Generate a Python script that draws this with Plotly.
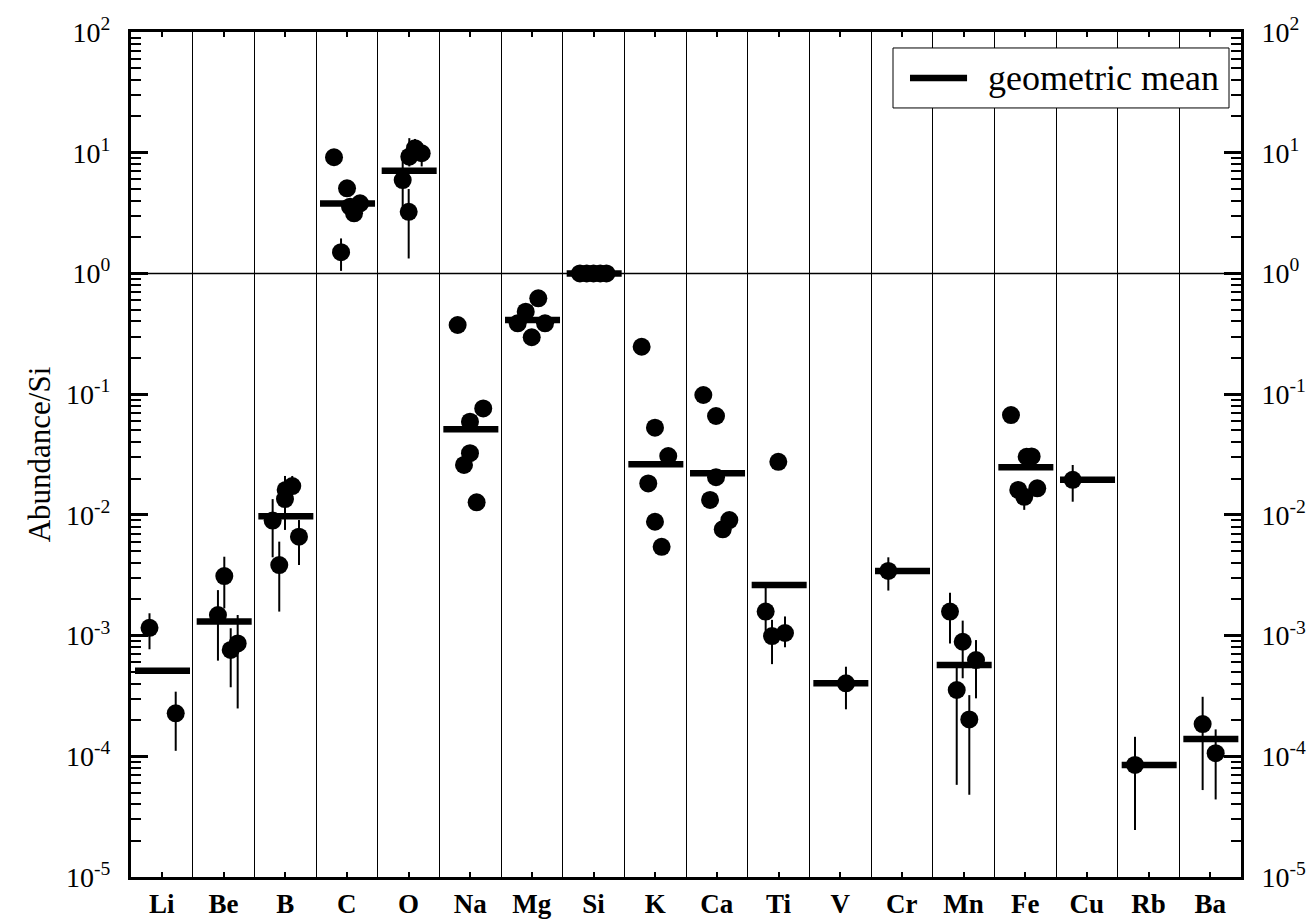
import plotly.graph_objects as go

elements = ["Li", "Be", "B", "C", "O", "Na", "Mg", "Si", "K",
            "Ca", "Ti", "V", "Cr", "Mn", "Fe", "Cu", "Rb", "Ba"]

# individual determinations: element, abundance relative to Si,
# upper / lower limits of the uncertainty (None where no bar is drawn)
pt_element = (["Li"] * 2 + ["Be"] * 4 + ["B"] * 6 + ["C"] * 6 + ["O"] * 5 +
              ["Na"] * 6 + ["Mg"] * 5 + ["Si"] * 5 + ["K"] * 6 + ["Ca"] * 6 +
              ["Ti"] * 4 + ["V"] + ["Cr"] + ["Mn"] * 5 + ["Fe"] * 6 +
              ["Cu"] + ["Rb"] + ["Ba"] * 2)

pt_value = [1.16e-3, 2.27e-4,
            3.11e-3, 1.48e-3, 7.6e-4, 8.6e-4,
            1.73e-2, 1.61e-2, 1.35e-2, 8.96e-3, 6.59e-3, 3.84e-3,
            9.17, 5.07, 3.57, 3.81, 3.15, 1.50,
            9.27, 9.9, 10.9, 5.94, 3.24,
            0.374, 0.0762, 0.0592, 0.0324, 0.0259, 0.0127,
            0.622, 0.482, 0.386, 0.386, 0.296,
            1.0, 1.0, 1.0, 1.0, 1.0,
            0.247, 0.0527, 0.0307, 0.0182, 0.00877, 0.00544,
            0.0984, 0.0659, 0.0205, 0.0133, 0.00906, 0.00759,
            0.0275, 1.58e-3, 9.9e-4, 1.05e-3,
            4.02e-4,
            3.43e-3,
            1.58e-3, 8.89e-4, 6.27e-4, 3.54e-4, 2.02e-4,
            0.0671, 0.0303, 0.0305, 0.0161, 0.0166, 0.0141,
            0.0195,
            8.48e-5,
            1.85e-4, 1.06e-4]

pt_upper = [1.53e-3, 3.43e-4,
            4.5e-3, 2.38e-3, 1.15e-3, 1.48e-3,
            2.1e-2, None, 2.1e-2, 1.35e-2, 9.06e-3, 6.0e-3,
            None, None, None, None, None, 1.95,
            13.2, 12.0, 13.0, 9.0, 5.0,
            None, None, None, None, None, None,
            None, None, None, None, None,
            None, None, None, None, None,
            None, None, None, None, None, None,
            None, None, None, None, None, None,
            None, 2.48e-3, 1.35e-3, 1.44e-3,
            5.52e-4,
            4.45e-3,
            2.26e-3, 1.33e-3, 9.18e-4, 5.4e-4, 3.21e-4,
            None, None, None, None, None, None,
            0.0259,
            1.45e-4,
            3.11e-4, 1.67e-4]

pt_lower = [7.7e-4, 1.11e-4,
            1.68e-3, 6.2e-4, 3.73e-4, 2.49e-4,
            None, None, 7.5e-3, 4.45e-3, 3.84e-3, 1.58e-3,
            None, None, None, None, None, 1.05,
            7.7, 7.7, 9.0, 3.57, 1.33,
            None, None, None, None, None, None,
            None, None, None, None, None,
            None, None, None, None, None,
            None, None, None, None, None, None,
            None, None, None, None, None, None,
            None, 9.5e-4, 5.8e-4, 8.0e-4,
            2.45e-4,
            2.36e-3,
            8.6e-4, 4.43e-4, 3.02e-4, 5.8e-5, 4.8e-5,
            None, None, None, None, None, 0.011,
            0.01285,
            2.45e-5,
            5.25e-5, 4.39e-5]

# sideways spread of the points inside each element column (column widths)
pt_shift = [-0.20, 0.225,
            0.013, -0.09, 0.117, 0.23,
            0.115, 0.008, -0.003, -0.203, 0.224, -0.096,
            -0.208, 0.003, 0.052, 0.214, 0.117, -0.094,
            0.013, 0.214, 0.105, -0.094, 0.003,
            -0.203, 0.212, -0.003, -0.003, -0.100, 0.105,
            0.105, -0.099, -0.229, 0.214, -0.002,
            -0.22, -0.11, 0.0, 0.11, 0.21,
            -0.219, -0.003, 0.212, -0.112, -0.003, 0.105,
            -0.219, -0.013, -0.013, -0.110, 0.203, 0.096,
            -0.003, -0.208, -0.105, 0.105,
            0.094,
            -0.219,
            -0.219, -0.013, 0.203, -0.110, 0.094,
            -0.230, 0.024, 0.105, -0.112, 0.196, -0.015,
            -0.229,
            -0.219,
            -0.122, 0.089]

# geometric mean of each element
geo_mean = [5.11e-4, 1.31e-3, 9.73e-3, 3.79, 7.10, 0.0511, 0.411, 1.0,
            0.0262, 0.0221, 2.62e-3, 4.02e-4, 3.43e-3, 5.70e-4, 0.0248,
            0.0195, 8.48e-5, 1.39e-4]

decade_exps = list(range(-5, 3))
decade_text = ["10<sup>%d</sup>" % e for e in decade_exps]

FONT = "Liberation Serif"

# column geometry
centers = [i + 0.5 for i in range(len(elements))]
col_index = {el: i for i, el in enumerate(elements)}

pt_x = [col_index[el] + 0.5 + s for el, s in zip(pt_element, pt_shift)]
err_plus = [(u - v) if u is not None else 0 for u, v in zip(pt_upper, pt_value)]
err_minus = [(v - l) if l is not None else 0 for l, v in zip(pt_lower, pt_value)]

# mean bars span most of each column
bar_x, bar_y = [], []
for i, m in enumerate(geo_mean):
    bar_x += [i + 0.065, i + 0.957, None]
    bar_y += [m, m, None]

fig = go.Figure()

fig.add_trace(go.Scatter(
    x=bar_x, y=bar_y, mode="lines",
    line=dict(color="black", width=6.5),
    name="geometric mean", showlegend=False, hoverinfo="skip",
))

fig.add_trace(go.Scatter(
    x=pt_x, y=pt_value, mode="markers",
    marker=dict(color="black", size=18, line=dict(width=0)),
    error_y=dict(type="data", symmetric=False, array=err_plus,
                 arrayminus=err_minus, color="black", thickness=2, width=0),
    showlegend=False,
))

# companion trace so the right-hand axis is rendered
fig.add_trace(go.Scatter(
    x=centers, y=geo_mean, yaxis="y2", mode="markers",
    marker=dict(size=1, opacity=0), showlegend=False, hoverinfo="skip",
))

minor_vals = [k * 10.0 ** e for e in range(-5, 2) for k in range(2, 10)]

yaxis_common = dict(
    type="log", range=[-5, 2], automargin=False,
    tickmode="array", tickvals=[10.0 ** e for e in decade_exps], ticktext=decade_text,
    ticks="inside", ticklen=17, tickwidth=2.5, tickcolor="black",
    minor=dict(tickmode="array", tickvals=minor_vals, ticks="inside",
               ticklen=10, tickwidth=2, tickcolor="black", showgrid=False),
    showgrid=False, zeroline=False,
    showline=True, linewidth=3, linecolor="black",
    tickfont=dict(family=FONT, size=28, color="black"),
    ticklabelstandoff=12,
)

fig.update_layout(
    width=1308, height=924,
    margin=dict(l=131, r=67, t=32, b=47),
    paper_bgcolor="white", plot_bgcolor="white",
    font=dict(family=FONT, color="black"),
    xaxis=dict(
        range=[0, len(elements)], automargin=False,
        tickmode="array", tickvals=centers, ticktext=["<b>%s</b>" % e for e in elements],
        ticks="inside", ticklen=5, tickwidth=1.5, tickcolor="black",
        minor=dict(tickmode="array", tickvals=list(range(1, len(elements))),
                   ticks="", showgrid=True, gridcolor="black", gridwidth=1),
        showgrid=False, zeroline=False,
        showline=True, linewidth=3, linecolor="black", mirror="ticks",
        tickfont=dict(family=FONT, size=27, color="black"),
        ticklabelstandoff=1,
    ),
    yaxis=dict(
        **yaxis_common,
        title=dict(text="Abundance/Si", font=dict(family=FONT, size=31, color="black"),
                   standoff=7),
    ),
    yaxis2=dict(**yaxis_common, overlaying="y", side="right", anchor="x"),
    shapes=[
        # reference level at unit abundance
        dict(type="line", xref="paper", yref="y", x0=0, x1=1, y0=1, y1=1,
             line=dict(color="black", width=1.5), layer="below"),
        # legend frame and key
        dict(type="rect", xref="paper", yref="paper",
             x0=0.6865, x1=0.9892, y0=0.9101, y1=0.9811,
             line=dict(color="black", width=1), fillcolor="white", layer="above"),
        dict(type="line", xref="paper", yref="paper",
             x0=0.7018, x1=0.7532, y0=0.9456, y1=0.9456,
             line=dict(color="black", width=6.5), layer="above"),
    ],
    annotations=[
        dict(text="geometric mean", xref="paper", yref="paper",
             x=0.7703, y=0.9456, xanchor="left", yanchor="middle",
             showarrow=False, font=dict(family=FONT, size=36, color="black")),
    ],
)

fig.write_html("out.html")
